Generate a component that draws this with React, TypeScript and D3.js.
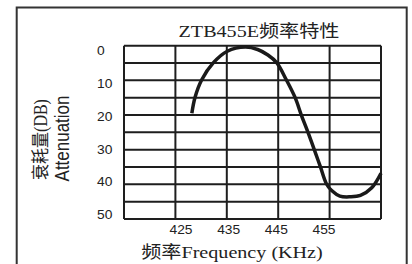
import React from "react";
import * as d3 from "d3";

const freqs = [428.2, 428.8, 430.1, 432.4, 435.1, 438.6, 441.0, 443.0, 444.7, 446.6, 448.3, 449.5, 450.8, 452.0, 453.2, 454.4, 455.4, 457.0, 459.0, 461.0, 463.2, 465.0];
const atten = [19.5, 15.0, 9.9, 4.9, 1.6, 0.4, 1.1, 2.7, 4.9, 9.9, 15.0, 20.0, 25.0, 29.9, 34.9, 39.9, 41.8, 43.4, 43.6, 43.2, 41.0, 36.8];
const xTicks = [425, 435, 445, 455];
const yTicks = [0, 10, 20, 30, 40, 50];
const yGrid = [0, 5, 10, 15, 20, 25, 30, 35, 40, 45, 50];
const title = "ZTB455E频率特性";
const xTitle = "频率Frequency (KHz)";
const yTitle1 = "衰耗量(DB)";
const yTitle2 = "Attenuation";

const SX = 1.15;
const serif = "'Liberation Serif','Noto Sans CJK SC',serif";
const sans = "'Liberation Sans','Noto Sans CJK SC',sans-serif";

export default function App() {
  const L = 124, R = 381, T = 45.7, B = 219;
  const x = d3.scaleLinear().domain([415, 465]).range([L, R]);
  const y = d3.scaleLinear().domain([0, 50]).range([T, B]);
  const xl = d3.scaleLinear().domain([425, 455]).range([181, 324]);
  const yl = d3.scaleLinear().domain([0, 50]).range([50.8, 215]);
  const pts = freqs.map((f, i) => [f, atten[i]] as [number, number]);
  const line = d3.line<[number, number]>().x(d => x(d[0])).y(d => y(d[1])).curve(d3.curveCatmullRom.alpha(0.5));
  const gc = "#1e1e1e";
  return (
    <svg width={412} height={264} style={{ position: "absolute", left: 0, top: 0, background: "#fff" }}>
      <rect x={0} y={0} width={412} height={264} fill="#fff" />
      <rect x={16.7} y={7.5} width={390} height={280} fill="none" stroke="#333" strokeWidth={2} />
      <text transform={`translate(259,37) scale(${SX},1)`} textAnchor="middle" fontFamily={serif} fontSize={17.5} fill="#222">{title}</text>
      {yGrid.map(v => (
        <line key={"h" + v} x1={L} x2={R} y1={y(v)} y2={y(v)} stroke={gc} strokeWidth={2} />
      ))}
      {[415, ...xTicks, 465].map(v => (
        <line key={"v" + v} x1={x(v)} x2={x(v)} y1={T} y2={B} stroke={gc} strokeWidth={2} />
      ))}
      <path d={line(pts) || ""} fill="none" stroke="#1a1a1a" strokeWidth={3.5} strokeLinecap="butt" />
      {yTicks.map(v => (
        <text key={"yt" + v} transform={`translate(97,${yl(v) + 4.3}) scale(${SX},1)`} fontFamily={sans} fontSize={12} fill="#222">{v}</text>
      ))}
      {xTicks.map(v => (
        <text key={"xt" + v} transform={`translate(${xl(v)},234) scale(${SX},1)`} textAnchor="middle" fontFamily={sans} fontSize={12} fill="#222">{v}</text>
      ))}
      <text transform={`translate(232,258) scale(${SX},1)`} textAnchor="middle" fontFamily={serif} fontSize={17.5} fill="#222">{xTitle}</text>
      <text transform={`translate(47,139.5) rotate(-90) scale(1,${SX})`} textAnchor="middle" fontFamily={serif} fontSize={16} fill="#222">{yTitle1}</text>
      <text transform={`translate(68.5,138.5) rotate(-90) scale(1,${SX})`} textAnchor="middle" fontFamily={sans} fontSize={17} fill="#222">{yTitle2}</text>
    </svg>
  );
}
